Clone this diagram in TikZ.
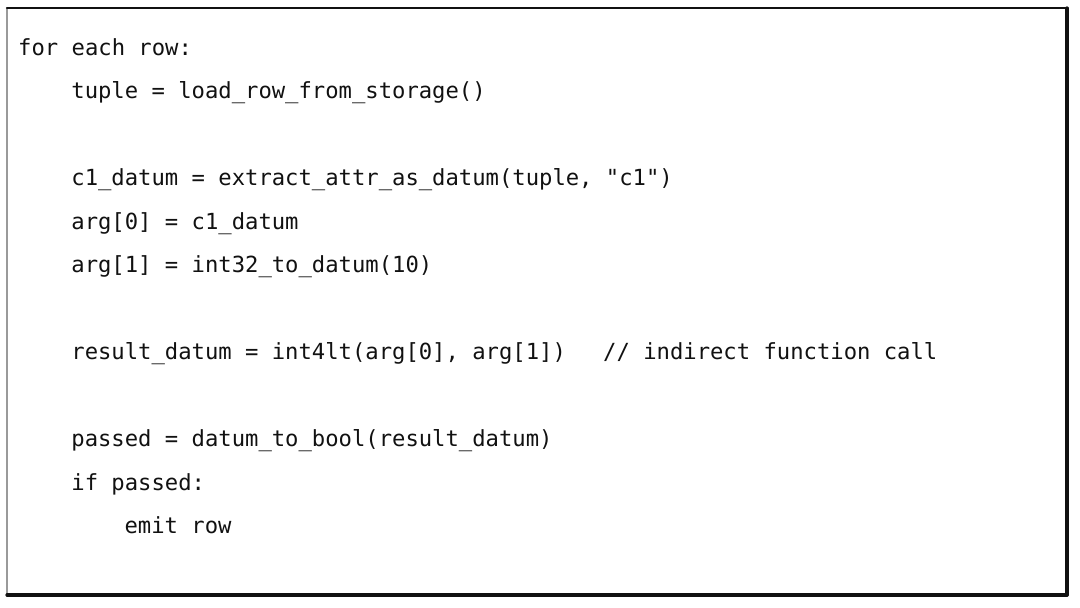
\documentclass[tikz,border=0pt]{standalone}
\usepackage{fontspec}
\setmonofont{DejaVu Sans Mono}
\usepackage{tikz}
\definecolor{ink}{HTML}{111111}
\definecolor{pencil}{HTML}{9A9A9A}
\tikzset{
    codeline/.style={anchor=base west, inner sep=0pt, text=ink,
                     font=\ttfamily\fontsize{22.2}{26}\selectfont},
    frameside/.style={draw=ink, line width=3.2pt, line cap=round},
    frametop/.style={draw=ink, line width=2.4pt, line cap=round},
    frameedge/.style={draw=pencil, line width=1.4pt, line cap=round}
}
\begin{document}
\begin{tikzpicture}[x=1pt,y=1pt]
                        \useasboundingbox (0,0) rectangle (1080,-608);

                        % frame corners
                        \coordinate (NW) at (7,-8);
                        \coordinate (NE) at (1067,-8);
                        \coordinate (SE) at (1067,-595);
                        \coordinate (SW) at (7,-595);

                        \draw[frameedge] (SW) -- (NW);
                        \draw[frametop] (NW) -- (NE);
                        \draw[frameside] (NE) -- (SE);
                        \draw[frameside] (SE) -- (SW);

                        % listing
                        \node[codeline] (forrow) at (18,-55) {for each row:};
                        \node[codeline] (tuple) at (71.2,-98.5) {tuple = load\_row\_from\_storage()};
                        \node[codeline] (cdatum) at (71.2,-185.5) {c1\_datum = extract\_attr\_as\_datum(tuple, "c1")};
                        \node[codeline] (argzero) at (71.2,-229) {arg[0] = c1\_datum};
                        \node[codeline] (argone) at (71.2,-272.5) {arg[1] = int32\_to\_datum(10)};
                        \node[codeline] (result) at (71.2,-359.5) {result\_datum = int4lt(arg[0], arg[1])};
                        \node[codeline] (comment) at (603,-359.5) {// indirect function call};
                        \node[codeline] (passed) at (71.2,-446.5) {passed = datum\_to\_bool(result\_datum)};
                        \node[codeline] (ifpassed) at (71.2,-490) {if passed:};
                        \node[codeline] (emit) at (124.4,-533.5) {emit row};
                    \end{tikzpicture}
\end{document}
